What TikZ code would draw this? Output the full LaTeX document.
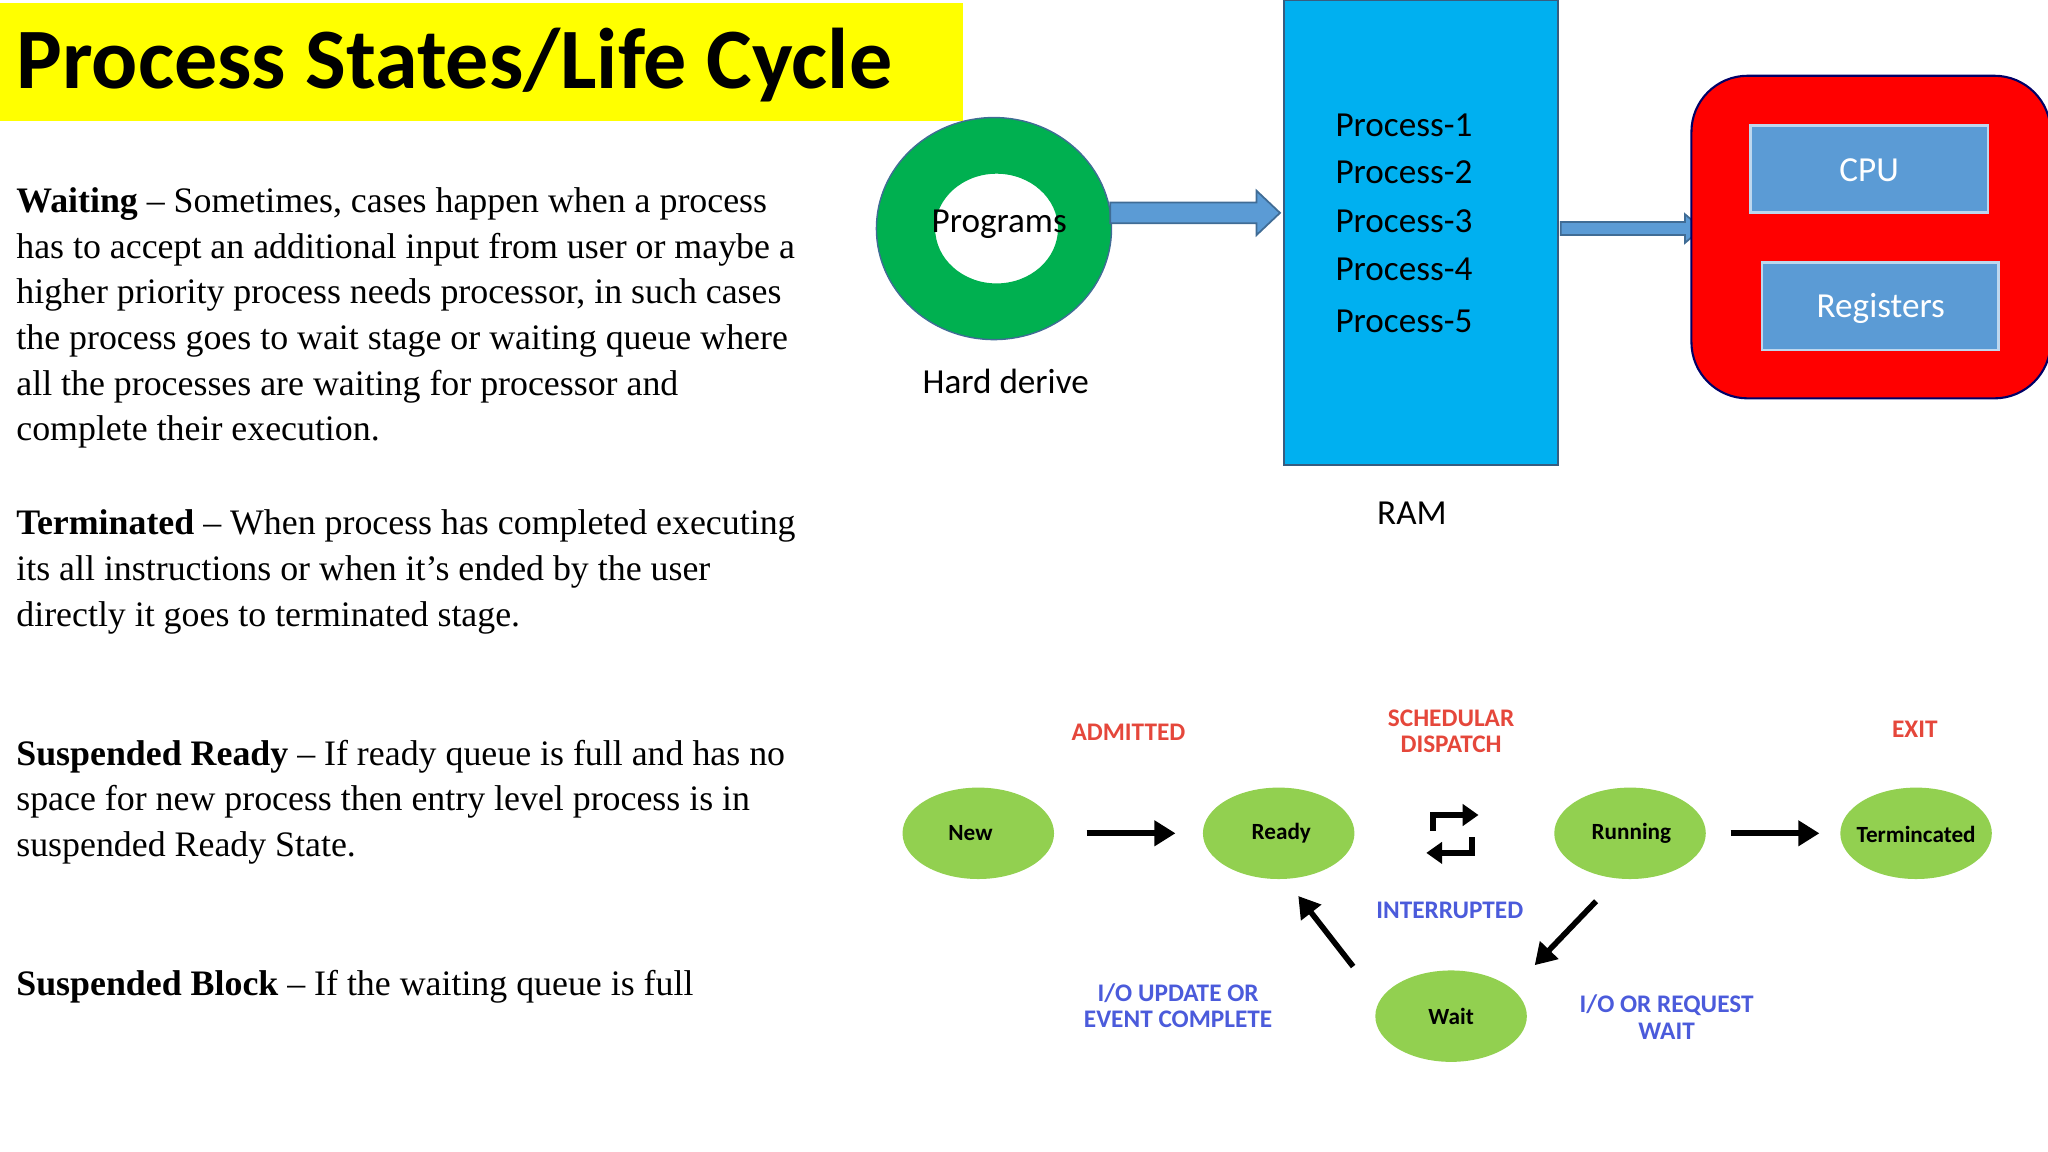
\documentclass[tikz,border=0pt]{standalone}
\usepackage{fontspec}
\setmainfont{Liberation Serif}
\newfontfamily\calf{Carlito}
\usetikzlibrary{arrows.meta,shapes.geometric}
\definecolor{ylw}{HTML}{FFFF00}
\definecolor{ringg}{HTML}{00B050}
\definecolor{ramb}{HTML}{00B0F0}
\definecolor{boxb}{HTML}{5B9BD5}
\definecolor{nodeg}{HTML}{92D050}
\definecolor{lblr}{HTML}{E5473B}
\definecolor{lblb}{HTML}{4B5BDB}
\begin{document}
\begin{tikzpicture}[x=0.013061cm,y=-0.013061cm,
  para/.style={anchor=north west,inner sep=0,align=left,font=\fontsize{10.2}{13}\selectfont},
  st/.style={inner sep=0,font=\calf\bfseries\fontsize{6.6}{8}\selectfont},
  lbl/.style={align=center,inner sep=0,font=\calf\bfseries\fontsize{7.2}{7.6}\selectfont},
  proc/.style={anchor=west,inner sep=0,font=\calf\fontsize{10}{12}\selectfont},
  blk/.style={-{Triangle[length=6pt,width=7pt]},line width=1.6pt}]
\useasboundingbox (0,0) rectangle (1568,882);
% title
\fill[ylw] (0,2) rectangle (737,93);
\node[anchor=west,inner sep=0,font=\calf\bfseries\fontsize{24.5}{28}\selectfont] (title) at (12,50) {Process States/Life Cycle};
% paragraphs
\node[para] (p1) at (12,143) {\textbf{Waiting} -- Sometimes, cases happen when a process\\has to accept an additional input from user or maybe a\\higher priority process needs processor, in such cases\\the process goes to wait stage or waiting queue where\\all the processes are waiting for processor and\\complete their execution.};
\node[para] (p2) at (12,390) {\textbf{Terminated} -- When process has completed executing\\its all instructions or when it’s ended by the user\\directly it goes to terminated stage.};
\node[para] (p3) at (12,566) {\textbf{Suspended Ready} -- If ready queue is full and has no\\space for new process then entry level process is in\\suspended Ready State.};
\node[para] (p4) at (12,742) {\textbf{Suspended Block} -- If the waiting queue is full};
% ring
\fill[ringg,even odd rule] (761,175) ellipse [x radius=90,y radius=85] (763,175) ellipse [x radius=47,y radius=42];
\draw[boxb!70!black,line width=0.4pt] (761,175) ellipse [x radius=90,y radius=85];
\node[inner sep=0,font=\calf\fontsize{10}{12}\selectfont] (prog) at (765,172) {Programs};
\node[inner sep=0,font=\calf\fontsize{10}{12}\selectfont] (hd) at (770,292) {Hard derive};
% RAM
\fill[ramb,draw=boxb!60!black,line width=0.6pt] (983,0) rectangle (1193,356);
\node[proc] (q1) at (1022,96) {Process-1};
\node[proc] (q2) at (1022,132) {Process-2};
\node[proc] (q3) at (1022,169) {Process-3};
\node[proc] (q4) at (1022,206) {Process-4};
\node[proc] (q5) at (1022,246) {Process-5};
\node[inner sep=0,font=\calf\fontsize{10}{12}\selectfont] (ram) at (1081,393) {RAM};
% fat arrows
\filldraw[fill=boxb,draw=boxb!70!black,line width=0.5pt] (850,155)--(962,155)--(962,146)--(980,163)--(962,180)--(962,171)--(850,171)--cycle;
\filldraw[fill=boxb,draw=boxb!70!black,line width=0.5pt] (1195,170)--(1290,170)--(1290,164)--(1303,175)--(1290,186)--(1290,180)--(1195,180)--cycle;
% CPU block
\filldraw[fill=red,draw=blue!40!black,line width=0.6pt,rounded corners=16pt] (1295,58) rectangle (1570,305);
\filldraw[fill=boxb,draw=boxb!40!white,line width=0.8pt] (1340,96) rectangle (1522,163);
\filldraw[fill=boxb,draw=boxb!40!white,line width=0.8pt] (1349,201) rectangle (1530,268);
\node[text=white,inner sep=0,font=\calf\fontsize{10}{12}\selectfont] (cpu) at (1431,130) {CPU};
\node[text=white,inner sep=0,font=\calf\fontsize{10}{12}\selectfont] (reg) at (1440,236) {Registers};
% life cycle
\fill[nodeg] (749,638) ellipse [x radius=58,y radius=35];
\fill[nodeg] (979,638) ellipse [x radius=58,y radius=35];
\fill[nodeg] (1248,638) ellipse [x radius=58,y radius=35];
\fill[nodeg] (1467,638) ellipse [x radius=58,y radius=35];
\fill[nodeg] (1111,778) ellipse [x radius=58,y radius=35];
\node[st] (new) at (743,638) {New};
\node[st] (ready) at (981,638) {Ready};
\node[st] (run) at (1249,638) {Running};
\node[st] (term) at (1467,639) {Termincated};
\node[st] (wait) at (1111,778) {Wait};
\coordinate (a1) at (832,638); \coordinate (a2) at (900,638);
\coordinate (b1) at (1325,638); \coordinate (b2) at (1393,638);
\coordinate (c1) at (1036,740); \coordinate (c2) at (994,686);
\coordinate (d1) at (1222,690); \coordinate (d2) at (1175,739);
\draw[blk] (a1)--(a2);
\draw[blk] (b1)--(b2);
\draw[blk] (c1)--(c2);
\draw[blk] (d1)--(d2);
\coordinate (s1) at (1097,636); \coordinate (s2) at (1132,624);
\coordinate (t1) at (1127,641); \coordinate (t2) at (1092,653);
\draw[-{Triangle[length=4.5pt,width=6pt]},line width=1.6pt] (s1)--(1097,624)--(s2);
\draw[-{Triangle[length=4.5pt,width=6pt]},line width=1.6pt] (t1)--(1127,653)--(t2);
\node[lbl,text=lblr] (adm) at (864,561) {ADMITTED};
\node[lbl,text=lblr] (sch) at (1111,560) {SCHEDULAR\\DISPATCH};
\node[lbl,text=lblr] (exit) at (1466,558) {EXIT};
\node[lbl,text=lblb] (intr) at (1110,697) {INTERRUPTED};
\node[lbl,text=lblb] (io1) at (902,770) {I/O UPDATE OR\\EVENT COMPLETE};
\node[lbl,text=lblb] (io2) at (1276,779) {I/O OR REQUEST\\WAIT};
\end{tikzpicture}
\end{document}
